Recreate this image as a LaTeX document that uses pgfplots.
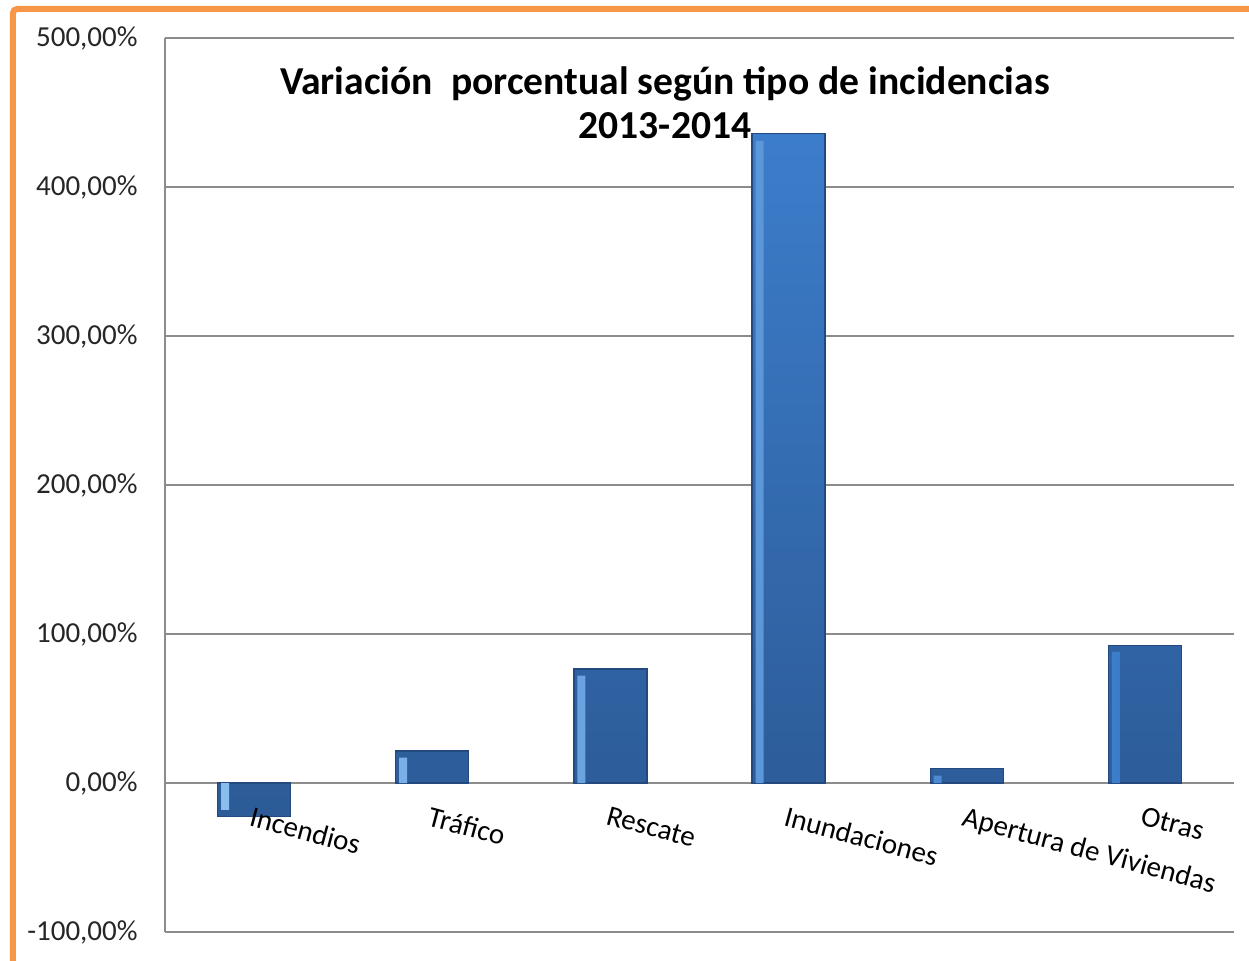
\documentclass[border=0pt]{standalone}
\usepackage{pgfplots}
\pgfplotsset{compat=1.18}
\usepackage{fontspec}
\setmainfont{Carlito}

\definecolor{barTop}{HTML}{3C7DCB}
\definecolor{barBot}{HTML}{2C5B97}
\definecolor{barEdge}{HTML}{23497E}
\definecolor{barHi}{HTML}{9CCDF7}
\definecolor{gridc}{HTML}{8C8C8C}
\definecolor{frameOr}{HTML}{F79646}

\tikzset{catlabel/.style={font=\fontsize{14.5}{16}\selectfont, rotate=-15, anchor=north west, inner sep=0pt, xshift=2.5pt, yshift=-11pt}}

\begin{document}
\begin{tikzpicture}
\useasboundingbox (-82.5pt,-14pt) rectangle (542pt,466pt);
% orange frame (left and top edges)
\draw[frameOr, line width=3pt, rounded corners=2pt] (-76pt,-20pt) -- (-76pt,461.5pt) -- (550pt,461.5pt);

\begin{axis}[
    at={(0,0)}, anchor=south west,
    scale only axis,
    width=534.5pt,
    height=447pt,
    ymin=-100, ymax=500,
    xmin=-0.5, xmax=5.5,
    axis x line*=middle,
    axis y line*=left,
    axis line style={gridc, line width=0.8pt},
    ytick={-100,0,100,200,300,400,500},
    yticklabels={{-100,00\%},{0,00\%},{100,00\%},{200,00\%},{300,00\%},{400,00\%},{500,00\%}},
    yticklabel style={font=\fontsize{14.5}{16}\selectfont, color=black!85, inner sep=0pt, anchor=east, xshift=-13.5pt},
    xtick={0,1,2,3,4,5},
    xticklabels={},
    major tick length=0pt,
    ymajorgrids,
    grid style={gridc, line width=0.6pt},
    clip=false,
]

% variacion porcentual 2013-2014
\addplot[ybar, bar width=36.5pt, draw=barEdge, line width=0.6pt,
         top color=barTop, bottom color=barBot] coordinates {
    (0,-22.5) (1,21.5) (2,76.5) (3,436) (4,9.5) (5,92.5)
};
% light bevel strip on the left side of each bar
\addplot[ybar, bar width=4pt, bar shift=-14.5pt, draw=none,
         left color=barHi!80!barTop, right color=barTop] coordinates {
    (0,-18) (1,17) (2,72) (3,431) (4,5) (5,88)
};

% category labels, drawn over the bars
\node[catlabel] at (axis cs:0,0) {Incendios};
\node[catlabel] at (axis cs:1,0) {Tráfico};
\node[catlabel] at (axis cs:2,0) {Rescate};
\node[catlabel] at (axis cs:3,0) {Inundaciones};
\node[catlabel] at (axis cs:4,0) {Apertura de Viviendas};
\node[catlabel] at (axis cs:5,0) {Otras};

\node[anchor=north, align=center, font=\bfseries\fontsize{19.8}{22}\selectfont]
    at ([yshift=-11pt]rel axis cs:0.4677,1)
    {Variación~ porcentual según tipo de incidencias\\2013-2014};

\end{axis}
\end{tikzpicture}
\end{document}
